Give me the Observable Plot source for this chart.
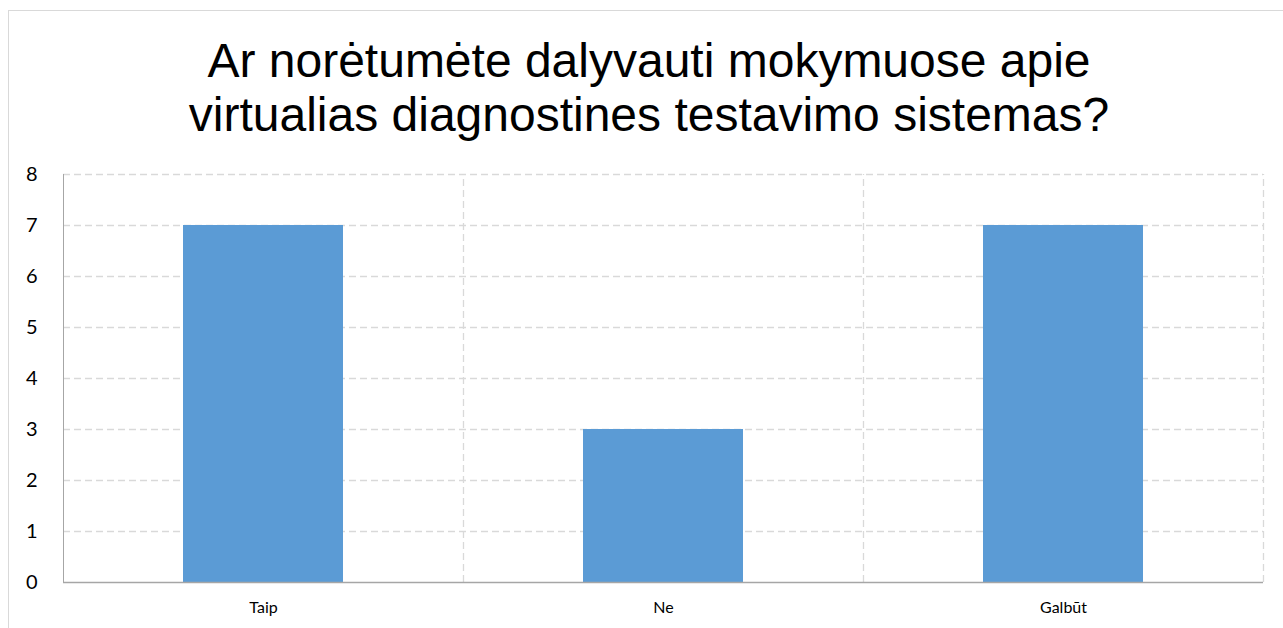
<!DOCTYPE html>
<html>
<head>
<meta charset="utf-8">
<script src="https://cdn.jsdelivr.net/npm/d3@7"></script>
<script src="https://cdn.jsdelivr.net/npm/@observablehq/plot@0.6"></script>
<style>
  html, body { margin: 0; padding: 0; background: #fff; }
  #wrap { position: relative; width: 1283px; height: 628px; overflow: hidden; }
  #frame { position: absolute; left: 8px; top: 10px; width: 1290px; height: 640px; border: 1px solid #d9d9d9; box-sizing: border-box; }
  #title { position: absolute; left: 0; top: 34px; width: 1298px; text-align: center;
    font-family: "Liberation Sans", Arial, sans-serif; font-size: 48px; line-height: 54px; color: #000; }
  #chart { position: absolute; left: 0; top: 160px; }
</style>
</head>
<body>
<div id="wrap">
  <div id="frame"></div>
  <div id="title">Ar norėtumėte dalyvauti mokymuose apie<br>virtualias diagnostines testavimo sistemas?</div>
  <div id="chart"></div>
</div>
<script>
const categories = ["Taip", "Ne", "Galbūt"];
const values = [7, 3, 7];
const yTicks = [0, 1, 2, 3, 4, 5, 6, 7, 8];

const data = categories.map((c, i) => ({category: c, value: values[i]}));

const chart = Plot.plot({
  width: 1283,
  height: 468,
  marginLeft: 63,
  marginRight: 20,
  marginTop: 14,
  marginBottom: 46,
  style: { fontFamily: "Lato, 'Open Sans', sans-serif", background: "transparent" },
  x: { domain: categories, paddingInner: 0.6, paddingOuter: 0.3, label: null },
  y: { domain: [0, 8], ticks: yTicks, label: null },
  marks: [
    Plot.ruleY(yTicks.filter(v => v > 0), { stroke: "#d9d9d9", strokeWidth: 1.3, strokeDasharray: "7,4" }),
    Plot.ruleX(categories, { x: d => d, dx: 200, y1: 0, y2: 8, stroke: "#d9d9d9", strokeWidth: 1.3, strokeDasharray: "7,4" }),
    Plot.barY(data, { x: "category", y: "value", fill: "#5b9bd5" }),
    Plot.ruleX([categories[0]], { x: d => d, dx: -200, y1: 0, y2: 8, stroke: "#a6a6a6", strokeWidth: 1 }),
    Plot.ruleY([0], { stroke: "#a6a6a6", strokeWidth: 1.3 }),
    Plot.axisY({ ticks: yTicks, tickSize: 0, tickPadding: 26, fontSize: 20, fill: "#000", label: null }),
    Plot.axisX({ tickSize: 0, tickPadding: 19, fontSize: 16, fill: "#000", label: null })
  ]
});
document.getElementById("chart").appendChild(chart);
</script>
</body>
</html>
